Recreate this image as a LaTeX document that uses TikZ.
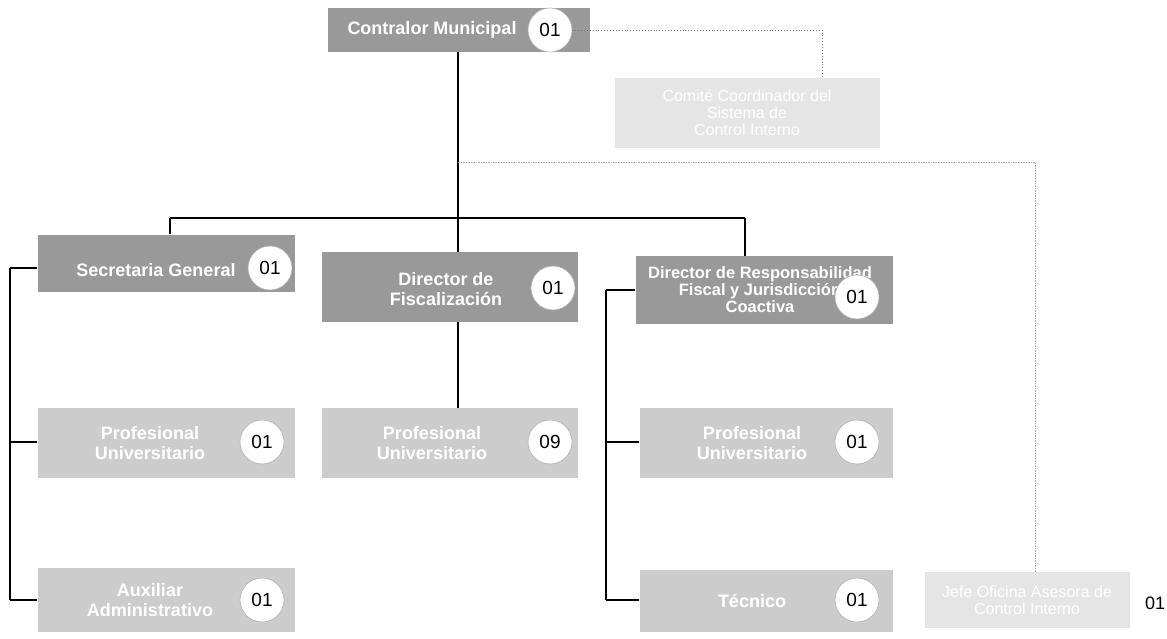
\documentclass[tikz,border=0pt]{standalone}
\usepackage{fontspec}
\setmainfont{Liberation Sans}
\begin{document}
\begin{tikzpicture}[x=1pt,y=-1pt,
  darkbox/.style={draw=none,fill=black!40,inner sep=0pt},
  lightbox/.style={draw=none,fill=black!20,inner sep=0pt},
  faintbox/.style={draw=none,fill=black!10,inner sep=0pt,text=white,font=\fontsize{16}{17}\selectfont,align=center},
  label/.style={text=white,font=\fontsize{18}{20}\selectfont\bfseries,align=center,inner sep=0pt},
  badge/.style={circle,draw=black!30,line width=0.6pt,fill=white,minimum size=44pt,inner sep=0pt,font=\fontsize{19}{20}\selectfont},
  link/.style={line width=1.1pt,black},
  dotlink/.style={line width=0.9pt,black!55,dotted},
  greylink/.style={line width=0.9pt,black!35,dash pattern=on 1.5pt off 1pt}]
\useasboundingbox (0,0) rectangle (1167,639);

% boxes
\node[darkbox,minimum width=262pt,minimum height=44pt] (contralor) at (459,30) {};
\node[label] (contralorT) at (432,30) {Contralor Municipal};
\node[badge] (c0) at (550,30) {01};

\node[faintbox,minimum width=265pt,minimum height=70pt] (asesorA) at (747,113) {Comité Coordinador del\\Sistema de\\Control Interno};

\node[darkbox,minimum width=257pt,minimum height=57pt] (secretaria) at (166,263) {};
\node[label] (secretariaT) at (156,270) {Secretaria General};
\node[badge] (c1) at (270,268) {01};

\node[darkbox,minimum width=256pt,minimum height=70pt] (dirfisc) at (450,287) {};
\node[label] (dirfiscT) at (446,289) {Director de\\Fiscalización};
\node[badge] (c2) at (553,288) {01};

\node[darkbox,minimum width=257pt,minimum height=68pt] (dirresp) at (764,290) {};
\node[label,font=\fontsize{16.5}{17}\selectfont\bfseries] (dirrespT) at (760,290) {Director de Responsabilidad\\Fiscal y Jurisdicción\\Coactiva};
\node[badge] (c3) at (857,297) {01};

\node[lightbox,minimum width=257pt,minimum height=70pt] (prof1) at (166,443) {};
\node[label] (prof1T) at (150,443) {Profesional\\Universitario};
\node[badge] (c4) at (262,442) {01};

\node[lightbox,minimum width=256pt,minimum height=70pt] (prof2) at (450,443) {};
\node[label] (prof2T) at (432,443) {Profesional\\Universitario};
\node[badge] (c5) at (550,442) {09};

\node[lightbox,minimum width=253pt,minimum height=70pt] (prof3) at (766,443) {};
\node[label] (prof3T) at (752,443) {Profesional\\Universitario};
\node[badge] (c6) at (857,442) {01};

\node[lightbox,minimum width=257pt,minimum height=64pt] (aux) at (166,600) {};
\node[label] (auxT) at (150,600) {Auxiliar\\Administrativo};
\node[badge] (c7) at (262,600) {01};

\node[lightbox,minimum width=253pt,minimum height=62pt] (tecnico) at (766,601) {};
\node[label] (tecnicoT) at (752,601) {Técnico};
\node[badge] (c8) at (857,600) {01};

\node[faintbox,minimum width=205pt,minimum height=56pt] (asesorB) at (1027,600) {Jefe Oficina Asesora de\\Control Interno};
\node[font=\fontsize{18}{19}\selectfont] (nB) at (1155,603) {01};

% coordinates
\coordinate (top) at (458,52);
\coordinate (j1) at (458,218);
\coordinate (jl) at (170,218);
\coordinate (jr) at (745,218);
\coordinate (g1) at (458,162);
\coordinate (g2) at (1035,162);
\coordinate (d1) at (822,30);
\coordinate (lb1) at (10,268);
\coordinate (lb2) at (10,442);
\coordinate (lb3) at (10,600);
\coordinate (rb1) at (606,290);
\coordinate (rb2) at (606,442);
\coordinate (rb3) at (606,600);

% connectors
\draw[link] (top) -- (458,252);
\draw[link] (jl) -- (jr);
\draw[link] (jl) -- (secretaria.north -| jl);
\draw[link] (jr) -- (dirresp.north -| jr);
\draw[greylink] (g1) -- (g2) -- (asesorB.north -| g2);
\draw[dotlink] (c0.east) -- (d1) -- (asesorA.north -| d1);
\draw[link] (458,322) -- (prof2.north -| top);
\draw[link] (lb1) -- (lb3);
\draw[link] (lb1) -- (secretaria.west |- lb1);
\draw[link] (lb2) -- (prof1.west |- lb2);
\draw[link] (lb3) -- (aux.west |- lb3);
\draw[link] (rb1) -- (rb3);
\draw[link] (rb1) -- (dirresp.west |- rb1);
\draw[link] (rb2) -- (prof3.west |- rb2);
\draw[link] (rb3) -- (tecnico.west |- rb3);
\end{tikzpicture}
\end{document}
